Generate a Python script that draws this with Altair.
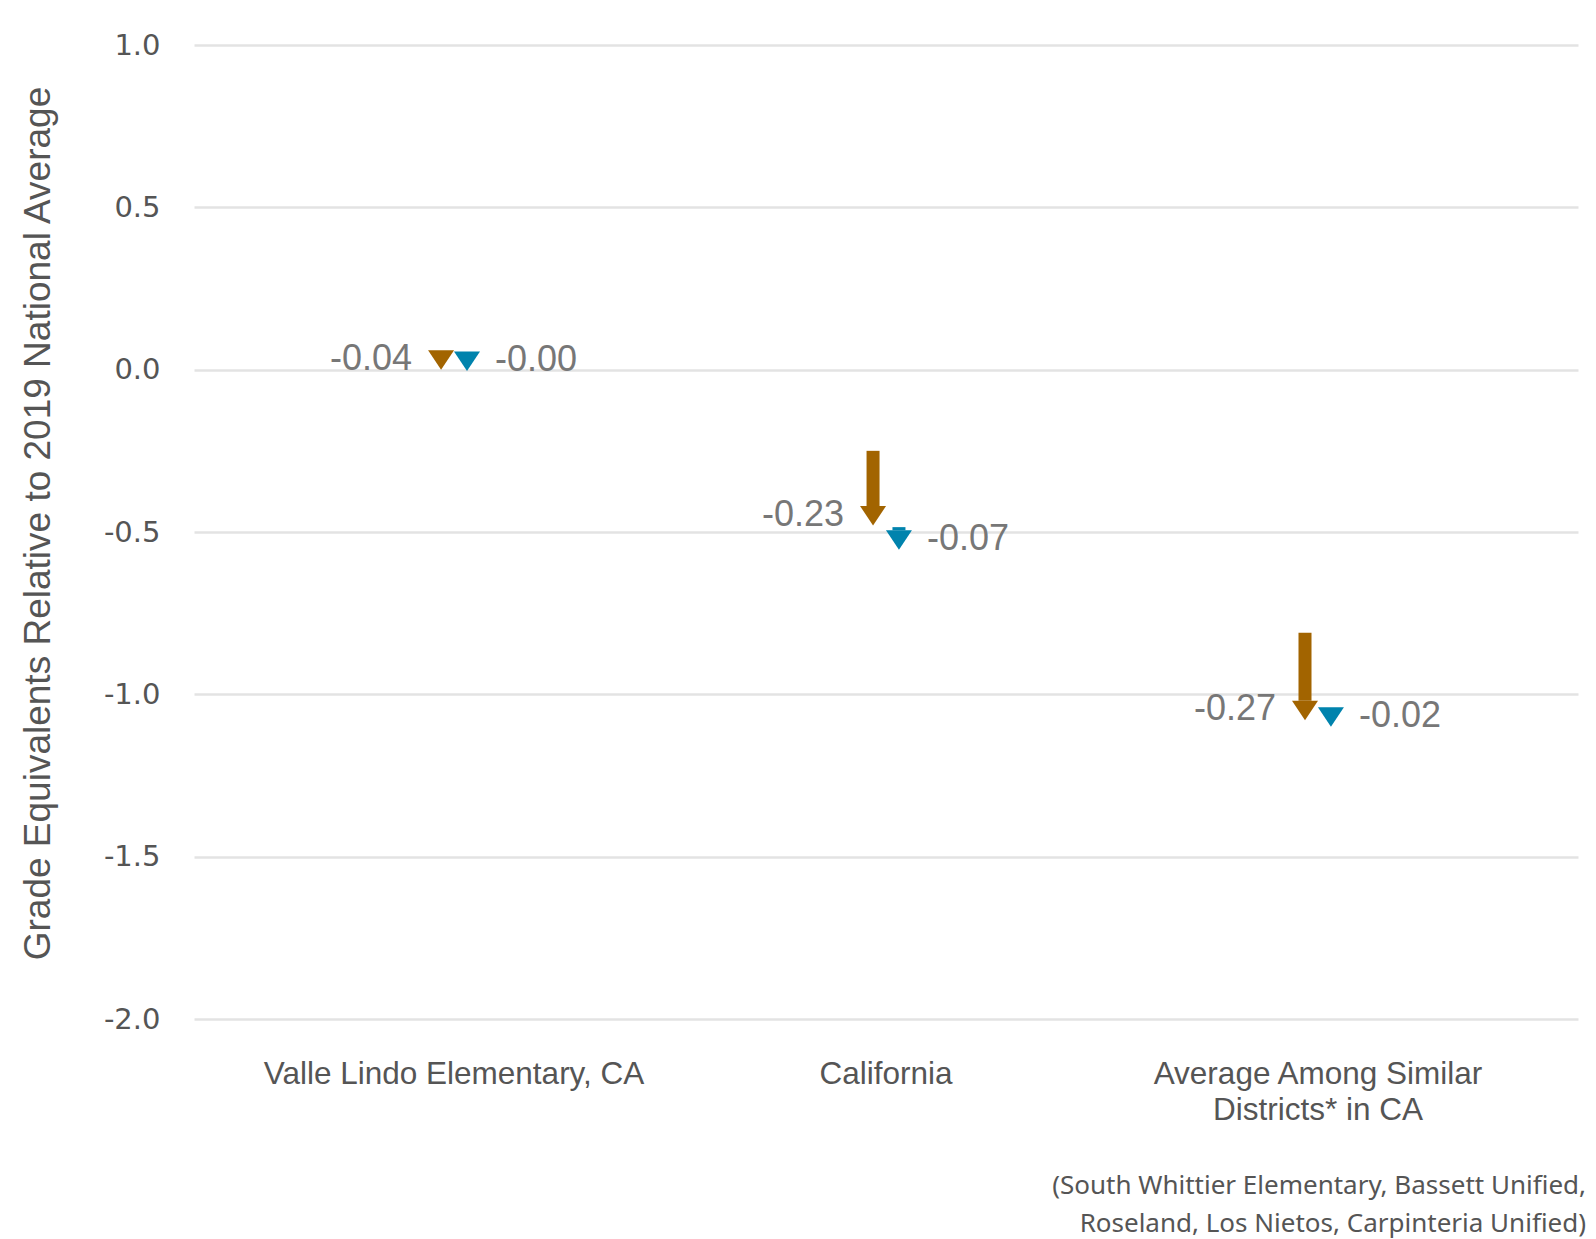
import altair as alt
import pandas as pd

# ---- data ----
categories = ["Valle Lindo Elementary, CA", "California", "Average Among Similar Districts* in CA"]
series_names = ["Math", "Reading"]
math_start = [0.04, -0.25, -0.81]
math_end = [0.00, -0.48, -1.08]
math_labels = ["-0.04", "-0.23", "-0.27"]
reading_start = [0.00, -0.485, -1.08]
reading_end = [-0.004, -0.555, -1.10]
reading_labels = ["-0.00", "-0.07", "-0.02"]
y_ticks = [-2.0, -1.5, -1.0, -0.5, 0.0, 0.5, 1.0]
footnote_lines = ["(South Whittier Elementary, Bassett Unified,",
                  "Roseland, Los Nietos, Carpinteria Unified)"]
series_colors = ["#A26400", "#0083AD"]
y_title = "Grade Equivalents Relative to 2019 National Average"

rows = []
for i, c in enumerate(categories):
    rows.append({"category": c, "series": series_names[0], "start": math_start[i],
                 "end": math_end[i], "label": math_labels[i]})
    rows.append({"category": c, "series": series_names[1], "start": reading_start[i],
                 "end": reading_end[i], "label": reading_labels[i]})
df = pd.DataFrame(rows)

FONT = "Liberation Sans"
label_expr = ("datum.value == 'Average Among Similar Districts* in CA' ? "
              "['Average Among Similar', 'Districts* in CA'] : datum.value")

x_enc = alt.X("category:N", sort=categories, title=None,
              scale=alt.Scale(type="band", paddingInner=0.88, paddingOuter=0.542),
              axis=alt.Axis(labelAngle=0, labelFontSize=31.5, labelColor="#555555", labelFont=FONT,
                            labelPadding=39, ticks=False, domain=False, grid=False, labelLimit=0,
                            labelExpr=label_expr, labelLineHeight=36, labelBaseline="top"))
xo_enc = alt.XOffset("series:N", sort=series_names, scale=alt.Scale(domain=series_names))
color_enc = alt.Color("series:N", scale=alt.Scale(domain=series_names, range=series_colors), legend=None)
y_scale = alt.Scale(domain=[-2, 1], nice=False, zero=False)

base = alt.Chart(df).encode(x=x_enc, xOffset=xo_enc)

shaft = base.transform_filter("datum.start - datum.end > 0.06").mark_rule(
    strokeWidth=13, strokeCap="butt", y2Offset=-19.5
).encode(
    y=alt.Y("start:Q", scale=y_scale, title=y_title,
            axis=alt.Axis(values=y_ticks, labelExpr="replace(format(datum.value, '.1f'), '\u2212', '-')",
                          labelFontSize=29, labelColor="#555555", labelFont="DejaVu Sans",
                          labelPadding=34, ticks=False, domain=False,
                          gridColor="#e3e3e3", gridWidth=2.5,
                          titleFontSize=37, titleColor="#555555", titleFont=FONT,
                          titleFontWeight="normal", titlePadding=46, titleY=478)),
    y2="end:Q",
    color=color_enc,
)

head = base.mark_point(shape="M-1,-1.5L1,-1.5L0,0Z", size=676, filled=True,
                       opacity=1, strokeWidth=0).encode(
    y=alt.Y("end:Q", scale=y_scale),
    color=color_enc,
)

lbl_left = base.transform_filter(alt.datum.series == series_names[0]).mark_text(
    align="right", baseline="alphabetic", dx=-29, fontSize=36, font=FONT, color="#777777"
).encode(y=alt.Y("end:Q", scale=y_scale), text="label:N")

lbl_right = base.transform_filter(alt.datum.series == series_names[1]).mark_text(
    align="left", baseline="alphabetic", dx=28, fontSize=36, font=FONT, color="#777777"
).encode(y=alt.Y("end:Q", scale=y_scale), text="label:N")

foot = alt.Chart(pd.DataFrame({"n": [0]})).mark_text(
    align="right", baseline="alphabetic", fontSize=26, lineHeight=38, font="Noto Sans", color="#555555"
).encode(x=alt.value(1392), y=alt.value(1149), text=alt.value(footnote_lines))

chart = alt.layer(shaft, head, lbl_left, lbl_right, foot).properties(
    width=1384, height=974,
    background="white",
    autosize=alt.AutoSizeParams(type="none"),
    padding={"left": 186, "top": 37, "right": 10, "bottom": 220},
).configure_view(stroke=None)

chart.save("out.html", embed_options={"renderer": "svg", "actions": False})
